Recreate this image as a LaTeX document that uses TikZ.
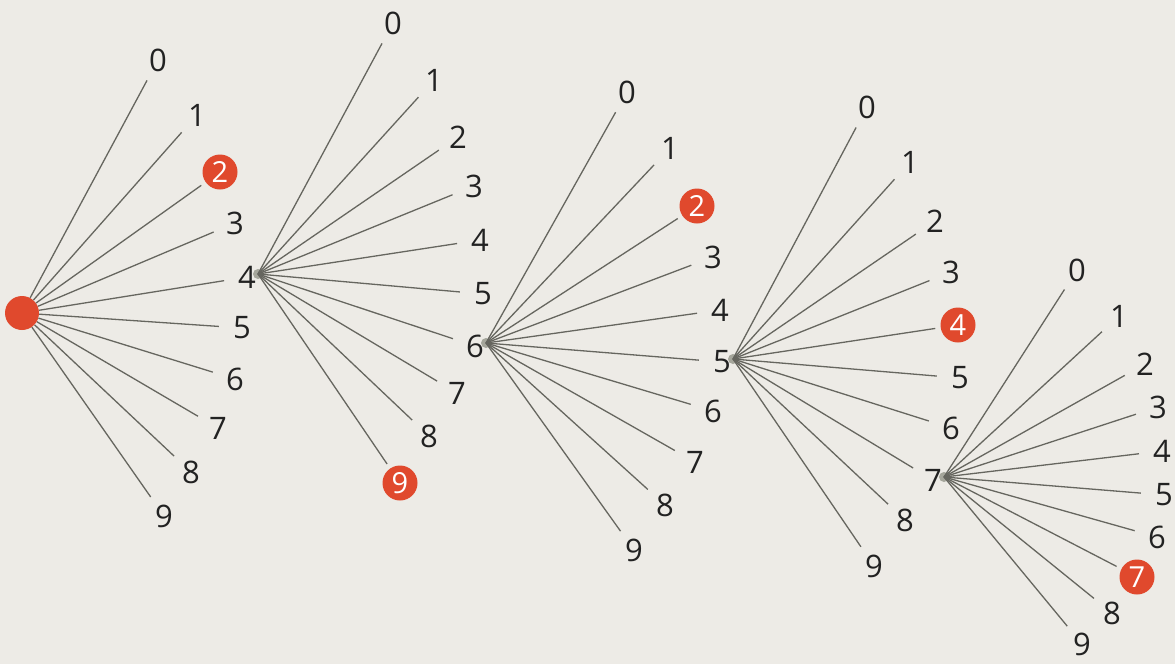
\documentclass[tikz,border=0pt]{standalone}
\usepackage{fontspec}
\setmainfont{Open Sans}
\usetikzlibrary{calc}
\definecolor{bg}{HTML}{EDEBE6}
\definecolor{dotred}{HTML}{E0492D}
\definecolor{ln}{HTML}{66665F}
\definecolor{txt}{HTML}{222222}
\definecolor{hubc}{HTML}{A5A69B}
\begin{document}
\begin{tikzpicture}[x=1pt,y=-1pt,
  lab/.style={circle,inner sep=0pt,minimum size=46pt,font=\fontsize{31}{31}\selectfont,text=txt},
  redlab/.style={circle,fill=dotred,inner sep=0pt,minimum size=35pt,outer sep=5.5pt,font=\fontsize{29}{29}\selectfont,text=white},
  edge/.style={draw=ln,line width=1.3pt},
  hub/.style={fill=hubc}]
\fill[bg] (0,0) rectangle (1175,664);
\useasboundingbox (0,0) rectangle (1175,664);
% root
\node[circle,fill=dotred,minimum size=34pt,inner sep=0pt] (root) at (22,313) {};
% fan 1 labels
\foreach \i/\p/\s in {0/{158,60}/lab,1/{197,115}/lab,2/{220,172}/redlab,3/{235,223}/lab,4/{247,277}/lab,5/{242,328}/lab,6/{235,379}/lab,7/{218,428}/lab,8/{191,472}/lab,9/{164,516}/lab}
  \node[\s] (fa-\i) at (\p) {\i};
% fan 2 labels
\foreach \i/\p/\s in {0/{393,23}/lab,1/{434,80}/lab,2/{458,137}/lab,3/{474,186}/lab,4/{480,240}/lab,5/{483,294}/lab,6/{475,346}/lab,7/{457,393}/lab,8/{429,436}/lab,9/{400,483}/redlab}
  \node[\s] (fb-\i) at (\p) {\i};
% fan 3 labels
\foreach \i/\p/\s in {0/{627,92}/lab,1/{670,148}/lab,2/{697,206}/redlab,3/{713,257}/lab,4/{720,310}/lab,5/{722,362}/lab,6/{713,411}/lab,7/{695,462}/lab,8/{665,505}/lab,9/{634,550}/lab}
  \node[\s] (fc-\i) at (\p) {\i};
% fan 4 labels
\foreach \i/\p/\s in {0/{867,107}/lab,1/{910,162}/lab,2/{935,221}/lab,3/{951,272}/lab,4/{958,325}/redlab,5/{960,378}/lab,6/{951,428}/lab,7/{933,480}/lab,8/{905,520}/lab,9/{874,566}/lab}
  \node[\s] (fd-\i) at (\p) {\i};
% fan 5 labels
\foreach \i/\p/\s in {0/{1077,270}/lab,1/{1119,316}/lab,2/{1145,364}/lab,3/{1158,407}/lab,4/{1162,451}/lab,5/{1164,495}/lab,6/{1157,537}/lab,7/{1137,577}/redlab,8/{1112,613}/lab,9/{1082,644}/lab}
  \node[\s] (fe-\i) at (\p) {\i};
% hubs
\coordinate (hb) at ($(fa-4.center)+(11,-3)$);
\coordinate (hc) at ($(fb-6.center)+(11,-3)$);
\coordinate (hd) at ($(fc-5.center)+(11,-3)$);
\coordinate (he) at ($(fd-7.center)+(11,-3)$);
\foreach \h in {hb,hc,hd,he} \fill[hub] (\h) circle (5pt);
% connectors
\foreach \i in {0,...,9} {
  \draw[edge] (root) -- (fa-\i);
  \draw[edge] (hb) -- (fb-\i);
  \draw[edge] (hc) -- (fc-\i);
  \draw[edge] (hd) -- (fd-\i);
  \draw[edge] (he) -- (fe-\i);
}
\end{tikzpicture}
\end{document}
